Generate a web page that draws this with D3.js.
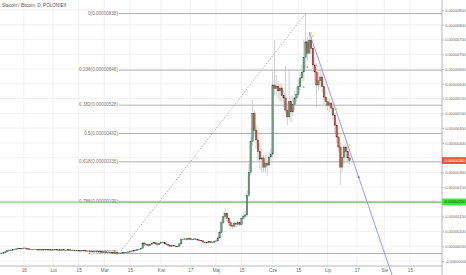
<!DOCTYPE html>
<html>
<head>
<meta charset="utf-8">
<script src="https://cdn.jsdelivr.net/npm/d3@7/dist/d3.min.js"></script>
<style>
  body { margin: 0; background: #fff; }
  svg { display: block; font-family: "Liberation Sans", Arial, sans-serif; }
</style>
</head>
<body>
<svg width="466" height="275"></svg>
<script>
// daily candles, prices in satoshi (1e-8 BTC), first candle = 2017-01-03
var firstDay = new Date(2017, 0, 3);
var closes = [
  27,26,28,31,35,37,36,38,40,41,43,42,43,44,42,41,40,40,39,40,39,38,39,39,38,39,39,38,38,
  38,39,38,38,37,38,37,37,38,37,37,36,36,36,35,35,36,35,34,34,34,33,33,34,33,32,32,31,
  31,30,30,29,29,28,28,27,27,26,28,29,30,31,32,34,35,37,38,40,43,61,57,55,52,56,60,62,58,55,60,
  64,62,58,56,52,50,53,51,49,50,58,72,74,75,73,76,74,72,75,74,71,70,68,64,63,62,65,63,64,66,
  68,78,96,130,150,162,145,130,120,118,128,124,130,123,145,152,156,222,300,405,500,443,410,370,345,349,318,330,325,352,362,
  596,585,592,576,586,560,552,511,488,540,505,530,552,565,590,620,640,690,742,704,748,720,664,640,596,610,623,590,555,540,
  528,535,518,494,460,420,386,318,350,386,370,349,340
];
var highs = [
  29,28,29,33,37,39,38,40,42,43,45,44,45,47,44,43,42,41,41,41,41,40,40,40,40,40,40,40,39,
  40,40,40,39,39,39,39,38,39,39,38,38,37,37,37,36,37,37,36,35,35,35,34,35,35,34,33,33,
  32,32,31,31,30,30,29,29,28,28,29,30,31,32,34,35,37,38,40,42,46,66,64,59,56,60,68,66,63,60,63,
  67,66,63,59,57,54,56,55,53,53,62,80,80,79,77,80,79,76,78,78,76,73,71,69,66,66,68,67,67,69,
  72,85,105,140,165,180,165,148,135,128,135,133,138,132,150,160,170,240,330,420,545,510,460,437,400,380,360,368,350,370,380,
  640,748,630,610,600,600,580,660,540,650,560,560,575,590,615,640,665,750,838,760,770,760,730,690,670,640,650,640,600,580,
  550,550,540,525,500,470,430,400,380,395,400,390,360
];
var lows = [
  25,24,25,27,30,34,34,35,37,39,40,40,41,42,40,39,38,38,37,38,37,37,37,37,37,37,37,37,36,
  36,37,37,36,36,36,36,35,36,36,35,35,34,35,34,34,34,34,33,33,32,32,32,32,32,31,31,30,
  30,29,29,28,28,27,27,26,25,25,26,28,29,29,30,31,33,34,36,37,39,42,52,51,48,50,54,57,55,52,54,
  58,59,55,53,49,47,49,48,46,47,49,57,69,70,69,71,71,69,70,71,68,66,64,60,60,59,60,60,61,62,
  63,66,75,92,125,140,135,120,110,108,112,115,118,118,120,140,145,150,215,290,390,420,380,340,310,300,300,300,290,315,340,
  350,560,560,550,540,540,520,500,460,480,470,490,510,540,555,580,610,610,650,680,700,700,650,600,521,580,590,570,530,520,
  510,505,500,480,430,400,370,257,300,330,340,330,325
];

// time axis
var timeTicks = [
  new Date(2017,0,16), new Date(2017,1,1), new Date(2017,1,15), new Date(2017,2,1),
  new Date(2017,2,15), new Date(2017,3,1), new Date(2017,3,17), new Date(2017,4,1),
  new Date(2017,4,15), new Date(2017,5,1), new Date(2017,5,15), new Date(2017,6,1),
  new Date(2017,6,17), new Date(2017,7,1), new Date(2017,7,15)
];
var timeLabels = ["16","Lut","15","Mar","15","Kwi","17","Maj","15","Cze","15","Lip","17","Sie","15"];
var priceTicks = [0,50,100,150,200,250,300,350,400,450,500,550,600,650,700,750,800,850];

// fibonacci retracement
var fibLevels = [0, 0.236, 0.382, 0.5, 0.618, 0.786, 1];
var fibHigh = 838, fibLow = 25.45;
var fibStart = new Date(2017,2,9), fibEnd = new Date(2017,5,19);

// drawings
var hLinePrice = 200;
var lastPrice = 340;
var trendPts = [[new Date(2017,5,21), 775], [new Date(2017,6,18), 284]];
var signalDates = [new Date(2017,5,22), new Date(2017,5,23), new Date(2017,6,6), new Date(2017,6,13), new Date(2017,5,20), new Date(2017,5,18)];
var signalPrices = [772, 762, 515, 393, 657, 589];
var signalColors = ["#f2c94c","#f2c94c","#f2c94c","#f2c94c","#6bd36b","#6bd36b"];

var svg = d3.select("svg");
var W = 442, H = 266;

var x = d3.scaleTime().domain([new Date(2017,0,3), new Date(2017,8,1)]).range([0, 441]);
var y = d3.scaleLinear().domain([0, 850]).range([261, 10]);
var sat = function(v) { return d3.format(".8f")(Math.round(v) * 1e-8); };

// grid
svg.append("g").selectAll("line").data(timeTicks).enter().append("line")
  .attr("x1", function(d) { return x(d); }).attr("x2", function(d) { return x(d); })
  .attr("y1", 0).attr("y2", H)
  .attr("stroke", "#eeeeee").attr("stroke-width", 0.8);
svg.append("g").selectAll("line").data(priceTicks).enter().append("line")
  .attr("x1", 0).attr("x2", W)
  .attr("y1", function(d) { return y(d); }).attr("y2", function(d) { return y(d); })
  .attr("stroke", "#eeeeee").attr("stroke-width", 0.8);

// fib lines + labels
var fibG = svg.append("g");
fibLevels.forEach(function(lv) {
  var p = fibHigh - lv * (fibHigh - fibLow);
  fibG.append("line")
    .attr("x1", x(fibStart)).attr("x2", W)
    .attr("y1", y(p)).attr("y2", y(p))
    .attr("stroke", "#a8a8a8").attr("stroke-width", 0.9);
  fibG.append("text")
    .attr("x", x(fibStart) - 1).attr("y", y(p) + 1)
    .attr("text-anchor", "end")
    .attr("font-size", 4.6).attr("fill", "#777")
    .text(lv + "(" + sat(p) + ")");
});
fibG.append("line")
  .attr("x1", x(fibStart)).attr("y1", y(fibLow))
  .attr("x2", x(fibEnd)).attr("y2", y(fibHigh))
  .attr("stroke", "#a0a0a0").attr("stroke-width", 0.8)
  .attr("stroke-dasharray", "1.5,1.5");

// horizontal line
svg.append("line")
  .attr("x1", 0).attr("x2", W)
  .attr("y1", y(hLinePrice)).attr("y2", y(hLinePrice))
  .attr("stroke", "#5cd65c").attr("stroke-width", 1.1);

// candles
var candles = closes.map(function(c, i) {
  return { date: d3.timeDay.offset(firstDay, i), o: i ? closes[i - 1] : c, h: highs[i], l: lows[i], c: c };
});
var cg = svg.append("g");
cg.selectAll(".wick").data(candles).enter().append("line")
  .attr("x1", function(d) { return x(d.date); }).attr("x2", function(d) { return x(d.date); })
  .attr("y1", function(d) { return y(d.h); }).attr("y2", function(d) { return y(d.l); })
  .attr("stroke", "#bcbcbc").attr("stroke-width", 0.7);
cg.selectAll(".body").data(candles).enter().append("rect")
  .attr("x", function(d) { return x(d.date) - 0.75; })
  .attr("width", 1.5)
  .attr("y", function(d) { return y(Math.max(d.o, d.c)); })
  .attr("height", function(d) { return Math.max(0.6, Math.abs(y(d.o) - y(d.c))); })
  .attr("fill", function(d) { return d.c >= d.o ? "#6ba583" : "#d75442"; })
  .attr("stroke", function(d) { return d.c >= d.o ? "#225437" : "#5b1a13"; })
  .attr("stroke-width", 0.35);

// trend line, extended downwards
var t0 = trendPts[0], t1 = trendPts[1];
var slope = (y(t1[1]) - y(t0[1])) / (x(t1[0]) - x(t0[0]));
var xEnd = x(t0[0]) + (275 - y(t0[1])) / slope;
svg.append("line")
  .attr("x1", x(t0[0])).attr("y1", y(t0[1]))
  .attr("x2", xEnd).attr("y2", 275)
  .attr("stroke", "#8c8cf5").attr("stroke-width", 0.9);
svg.append("circle").attr("cx", x(t1[0])).attr("cy", y(t1[1])).attr("r", 1)
  .attr("fill", "#5b5bf0");

// signal markers
svg.append("g").selectAll("circle").data(signalDates).enter().append("circle")
  .attr("cx", function(d) { return x(d); })
  .attr("cy", function(d, i) { return y(signalPrices[i]); })
  .attr("r", 0.9)
  .attr("fill", function(d, i) { return signalColors[i]; });

// price axis (labels hidden where a price tag sits on top of them)
var tags = [lastPrice, hLinePrice];
var covered = function(d) {
  return tags.some(function(t) { return Math.abs(y(d) - y(t)) < 5; });
};
var yAxis = svg.append("g").attr("transform", "translate(" + W + ",0)")
  .call(d3.axisRight(y).tickValues(priceTicks).tickSize(2).tickPadding(1.2)
    .tickFormat(function(d) { return covered(d) ? "" : (d === 0 ? "-0.00000000" : sat(d)); }));
yAxis.select(".domain").attr("stroke", "#b8b8b8").attr("d", "M0,0V275");
yAxis.selectAll(".tick line").attr("stroke", "#b8b8b8");
yAxis.selectAll("text").attr("font-size", 3.9).attr("fill", "#666").attr("font-family", "Liberation Sans, Arial, sans-serif");

// time axis
var xAxis = svg.append("g").attr("transform", "translate(0," + H + ")")
  .call(d3.axisBottom(x).tickValues(timeTicks).tickSize(0).tickPadding(3)
    .tickFormat(function(d, i) { return timeLabels[i]; }));
xAxis.select(".domain").attr("stroke", "#b8b8b8").attr("d", "M0,0H" + W);
xAxis.selectAll("text").attr("font-size", 4.6).attr("fill", "#666").attr("font-family", "Liberation Sans, Arial, sans-serif");

// price labels on axis
function priceTag(v, bg, fg) {
  var g = svg.append("g").attr("transform", "translate(" + W + "," + y(v) + ")");
  g.append("rect").attr("x", 0).attr("y", -3.4).attr("width", 24).attr("height", 6.8).attr("fill", bg);
  g.append("text").attr("x", 2.6).attr("y", 1.4).attr("font-size", 3.9).attr("fill", fg).text(sat(v));
}
priceTag(lastPrice, "#e2553f", "#fff");
priceTag(hLinePrice, "#33f033", "#1a3a1a");

// title
svg.append("text").attr("x", 2).attr("y", 7)
  .attr("font-size", 4.6).attr("fill", "#555")
  .text("Siacoin / Bitcoin, D, POLONIEX");
</script>
</body>
</html>
